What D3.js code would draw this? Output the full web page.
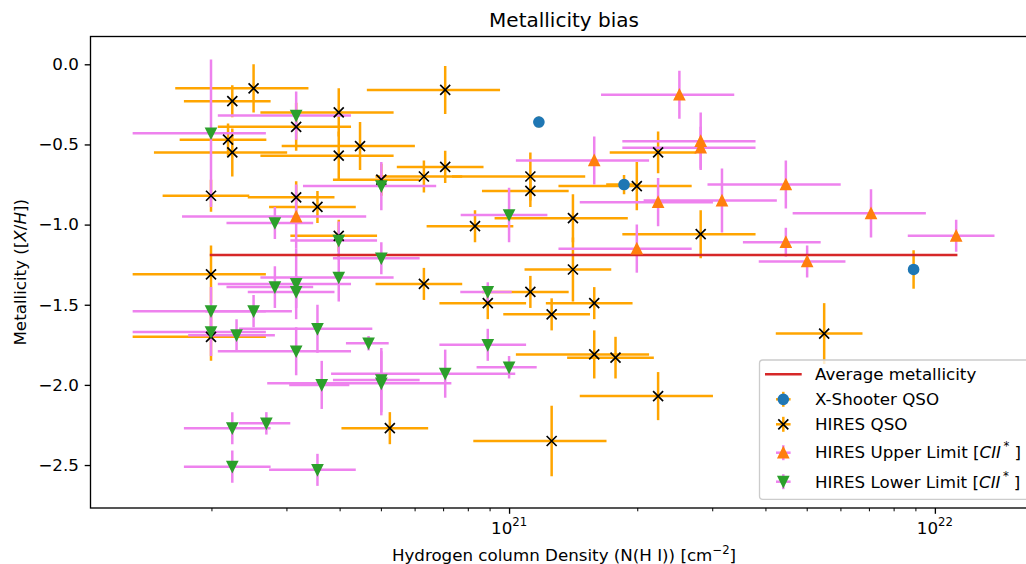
<!DOCTYPE html>
<html>
<head>
<meta charset="utf-8">
<script src="https://cdn.jsdelivr.net/npm/d3@7"></script>
<style>
  body { margin: 0; background: #fff; }
  svg { display: block; }
  text { font-family: "DejaVu Sans", sans-serif; fill: #000; }
</style>
</head>
<body>
<svg id="chart" width="1026" height="564"></svg>
<script>
// ---- Data: log N(H I) [cm^-2], its 1-sigma error (dex), metallicity [X/H] and its error ----

// X-Shooter QSO sight lines
const xshooterLogN     = [21.07, 21.27, 21.95];
const xshooterLogNErr  = [0.01, 0.04, 0.01];
const xshooterMetal    = [-0.36, -0.75, -1.28];
const xshooterMetalErr = [0.035, 0.06, 0.12];

// HIRES QSO sight lines
const hiresLogN = [20.40, 20.35, 20.60, 20.50, 20.34, 20.35, 20.60, 20.65, 20.70, 20.30,
                   20.50, 20.55, 20.60, 20.85, 20.85, 20.80, 21.05, 21.05, 21.15, 20.92,
                   21.35, 21.30, 21.45, 20.30, 20.30, 20.72, 20.80, 21.15, 21.05, 20.95,
                   21.10, 21.20, 21.20, 21.25, 21.35, 21.10, 21.74];
const hiresLogNErr = [0.15, 0.10, 0.15, 0.15, 0.10, 0.15, 0.15, 0.15, 0.10, 0.10,
                      0.10, 0.10, 0.10, 0.15, 0.10, 0.10, 0.15, 0.10, 0.15, 0.10,
                      0.10, 0.15, 0.15, 0.15, 0.15, 0.10, 0.10, 0.10, 0.10, 0.10,
                      0.10, 0.10, 0.15, 0.10, 0.15, 0.15, 0.10];
const hiresMetal = [-0.15, -0.23, -0.30, -0.39, -0.47, -0.55, -0.57, -0.51, -0.72, -0.82,
                    -0.83, -0.89, -1.07, -0.16, -0.64, -0.70, -0.70, -0.79, -0.96, -1.01,
                    -0.55, -0.76, -1.06, -1.31, -1.70, -2.27, -1.37, -1.28, -1.42, -1.49,
                    -1.56, -1.49, -1.81, -1.83, -2.07, -2.35, -1.68];
const hiresMetalErr = [0.15, 0.10, 0.15, 0.15, 0.10, 0.15, 0.15, 0.15, 0.10, 0.10,
                       0.10, 0.10, 0.10, 0.15, 0.10, 0.10, 0.15, 0.10, 0.15, 0.10,
                       0.13, 0.15, 0.15, 0.18, 0.15, 0.10, 0.10, 0.20, 0.10, 0.10,
                       0.10, 0.10, 0.15, 0.13, 0.15, 0.22, 0.19];

// HIRES upper limits from C II*
const upperLogN     = [20.50, 21.40, 21.45, 21.45, 21.20, 21.35, 21.30, 21.50, 21.65, 21.85, 22.05, 21.65, 21.70];
const upperLogNErr  = [0.20, 0.15, 0.15, 0.15, 0.15, 0.15, 0.15, 0.15, 0.15, 0.15, 0.10, 0.09, 0.10];
const upperMetal    = [-0.95, -0.19, -0.48, -0.52, -0.60, -0.86, -1.15, -0.85, -0.75, -0.93, -1.07, -1.11, -1.23];
const upperMetalErr = [0.20, 0.15, 0.18, 0.13, 0.15, 0.15, 0.15, 0.20, 0.15, 0.15, 0.10, 0.09, 0.10];

// HIRES lower limits from C II*
const lowerLogN = [20.30, 20.50, 20.70, 20.45, 20.60, 20.70, 20.60, 20.30, 20.40, 20.30,
                   20.36, 20.45, 20.50, 20.50, 20.55, 20.50, 20.67, 20.56, 20.70, 20.70,
                   20.85, 20.35, 20.43, 20.35, 20.55, 20.95, 20.95, 21.00, 21.00];
const lowerLogNErr = [0.15, 0.15, 0.15, 0.10, 0.10, 0.10, 0.15, 0.15, 0.10, 0.15,
                      0.10, 0.10, 0.15, 0.10, 0.15, 0.15, 0.05, 0.07, 0.10, 0.20,
                      0.20, 0.10, 0.06, 0.10, 0.10, 0.06, 0.10, 0.07, 0.10];
const lowerMetal = [-0.43, -0.32, -0.76, -0.99, -1.10, -1.21, -1.33, -1.54, -1.54, -1.67,
                    -1.69, -1.39, -1.37, -1.42, -1.65, -1.79, -1.74, -2.00, -1.97, -1.99,
                    -1.93, -2.27, -2.24, -2.51, -2.53, -1.42, -1.75, -1.89, -0.94];
const lowerMetalErr = [0.46, 0.15, 0.15, 0.10, 0.12, 0.10, 0.15, 0.15, 0.10, 0.15,
                       0.10, 0.13, 0.22, 0.10, 0.15, 0.15, 0.045, 0.15, 0.20, 0.20,
                       0.15, 0.10, 0.07, 0.10, 0.10, 0.06, 0.10, 0.07, 0.17];

// Average metallicity of the sample
const averageMetal = -1.19;

// Axis ticks
const yTicks = [0.0, -0.5, -1.0, -1.5, -2.0, -2.5];
const xMajorExp = [21, 22];
const xMinorMant = [2, 3, 4, 5, 6, 7, 8, 9];

// ---- Layout ----
const svg = d3.select("#chart");
const plot = { left: 90.5, right: 1037.5, top: 36.5, bottom: 508 };
const FS = 16.7;

const x = d3.scaleLog().domain([Math.pow(10, 20.017), Math.pow(10, 22.241)]).range([plot.left, plot.right]);
const y = d3.scaleLinear().domain([-2.768, 0.1734]).range([plot.bottom, plot.top]);

svg.append("rect").attr("width", 1026).attr("height", 564).attr("fill", "#fff");

svg.append("clipPath").attr("id", "plotclip")
  .append("rect")
  .attr("x", plot.left).attr("y", plot.top)
  .attr("width", plot.right - plot.left).attr("height", plot.bottom - plot.top);

// log-column errors converted to linear errors on N
function rows(logN, logNErr, metal, metalErr) {
  return logN.map((l, i) => {
    const n = Math.pow(10, l);
    const e = n * Math.LN10 * logNErr[i];
    return { n: n, lo: n - e, hi: n + e, m: metal[i], me: metalErr[i] };
  });
}

const series = [
  { label: "X-Shooter QSO", data: rows(xshooterLogN, xshooterLogNErr, xshooterMetal, xshooterMetalErr),
    ecolor: "#ffa500", marker: "circle", color: "#1f77b4" },
  { label: "HIRES QSO", data: rows(hiresLogN, hiresLogNErr, hiresMetal, hiresMetalErr),
    ecolor: "#ffa500", marker: "x", color: "#000000" },
  { label: "HIRES Upper Limit", data: rows(upperLogN, upperLogNErr, upperMetal, upperMetalErr),
    ecolor: "#ee82ee", marker: "up", color: "#ff7f0e" },
  { label: "HIRES Lower Limit", data: rows(lowerLogN, lowerLogNErr, lowerMetal, lowerMetalErr),
    ecolor: "#ee82ee", marker: "down", color: "#2ca02c" }
];

const plotArea = svg.append("g").attr("clip-path", "url(#plotclip)");

// error bars: horizontal then vertical for every series
const EW = 2.5;
series.forEach(s => {
  const g = plotArea.append("g");
  g.selectAll("line.h").data(s.data).join("line").attr("class", "h")
    .attr("x1", d => x(d.lo)).attr("x2", d => x(d.hi))
    .attr("y1", d => y(d.m)).attr("y2", d => y(d.m))
    .attr("stroke", s.ecolor).attr("stroke-width", EW);
  g.selectAll("line.v").data(s.data).join("line").attr("class", "v")
    .attr("x1", d => x(d.n)).attr("x2", d => x(d.n))
    .attr("y1", d => y(d.m - d.me)).attr("y2", d => y(d.m + d.me))
    .attr("stroke", s.ecolor).attr("stroke-width", EW);
});

// average metallicity across the full N(H I) range
const allN = series.flatMap(s => s.data.map(d => d.n));
const nExt = d3.extent(allN);
plotArea.append("line")
  .attr("x1", x(nExt[0])).attr("x2", x(nExt[1]))
  .attr("y1", y(averageMetal)).attr("y2", y(averageMetal))
  .attr("stroke", "#d62728").attr("stroke-width", 2.5).attr("stroke-linecap", "square");

// markers
const MS = 5;
const tri = d3.line();
function drawMarker(g, kind, color, cx, cy, r) {
  if (kind === "circle") {
    g.append("circle").attr("cx", cx).attr("cy", cy).attr("r", r)
      .attr("fill", color).attr("stroke", color).attr("stroke-width", 1.67);
  } else if (kind === "x") {
    g.append("path")
      .attr("d", `M${cx - r},${cy - r}L${cx + r},${cy + r}M${cx - r},${cy + r}L${cx + r},${cy - r}`)
      .attr("stroke", color).attr("stroke-width", 1.67).attr("fill", "none");
  } else if (kind === "up") {
    g.append("path").attr("d", tri([[cx, cy - r], [cx - r, cy + r], [cx + r, cy + r]]) + "Z")
      .attr("fill", color).attr("stroke", color).attr("stroke-width", 1.67).attr("stroke-linejoin", "miter");
  } else {
    g.append("path").attr("d", tri([[cx, cy + r], [cx - r, cy - r], [cx + r, cy - r]]) + "Z")
      .attr("fill", color).attr("stroke", color).attr("stroke-width", 1.67).attr("stroke-linejoin", "miter");
  }
}
series.forEach(s => {
  const g = plotArea.append("g");
  s.data.forEach(d => drawMarker(g, s.marker, s.color, x(d.n), y(d.m), MS));
});

// ---- Axes ----
svg.append("rect")
  .attr("x", plot.left).attr("y", plot.top)
  .attr("width", plot.right - plot.left).attr("height", plot.bottom - plot.top)
  .attr("fill", "none").attr("stroke", "#000").attr("stroke-width", 1.33);

// y axis
const yAxis = d3.axisLeft(y).tickValues(yTicks).tickSize(5.8).tickPadding(5.8).tickFormat(d3.format(".1f"));
const gy = svg.append("g").attr("transform", `translate(${plot.left},0)`).call(yAxis);
gy.select(".domain").remove();
gy.selectAll(".tick line").attr("stroke", "#000").attr("stroke-width", 1.33);
gy.selectAll(".tick text").attr("font-size", FS).attr("font-family", "DejaVu Sans").attr("fill", "#000");

// x axis (log): major decades and minor ticks
const xMajor = xMajorExp.map(e => Math.pow(10, e));
const xMinor = [];
[20, 21].forEach(e => xMinorMant.forEach(mn => xMinor.push(mn * Math.pow(10, e))));
const xDom = x.domain();
const xTickVals = xMajor.concat(xMinor).filter(v => v >= xDom[0] && v <= xDom[1]);
const xAxis = d3.axisBottom(x).tickValues(xTickVals).tickSize(5.8).tickFormat(() => "");
const gx = svg.append("g").attr("transform", `translate(0,${plot.bottom})`).call(xAxis);
gx.select(".domain").remove();
gx.selectAll(".tick line")
  .attr("stroke", "#000").attr("stroke-width", d => xMajor.includes(d) ? 1.33 : 1.0)
  .attr("y2", d => xMajor.includes(d) ? 5.8 : 3.3);
gx.selectAll(".tick text").remove();
xMajorExp.forEach(e => {
  const t = svg.append("text")
    .attr("x", x(Math.pow(10, e))).attr("y", 533.5)
    .attr("text-anchor", "middle").attr("font-size", FS);
  t.append("tspan").text("10");
  t.append("tspan").attr("font-size", 11.7).attr("dy", -8).text(String(e));
});

// axis labels and title
const xl = svg.append("text")
  .attr("x", (plot.left + plot.right) / 2).attr("y", 560.7)
  .attr("text-anchor", "middle").attr("font-size", FS);
xl.append("tspan").text("Hydrogen column Density (N(H I)) [cm");
xl.append("tspan").attr("font-size", 11.7).attr("dy", -6.5).text("\u22122");
xl.append("tspan").attr("dy", 6.5).text("]");

const yl = svg.append("text")
  .attr("transform", `translate(25.5,${(plot.top + plot.bottom) / 2}) rotate(-90)`)
  .attr("text-anchor", "middle").attr("font-size", FS);
yl.append("tspan").text("Metallicity ([");
yl.append("tspan").attr("font-style", "italic").text("X");
yl.append("tspan").text("/");
yl.append("tspan").attr("font-style", "italic").text("H");
yl.append("tspan").text("])");

svg.append("text")
  .attr("x", (plot.left + plot.right) / 2).attr("y", 26.7)
  .attr("text-anchor", "middle").attr("font-size", 20)
  .text("Metallicity bias");

// ---- Legend ----
const lg = svg.append("g");
lg.append("rect")
  .attr("x", 759.5).attr("y", 360).attr("width", 300).attr("height", 139.3)
  .attr("rx", 3.3).attr("ry", 3.3)
  .attr("fill", "#fff").attr("fill-opacity", 0.8)
  .attr("stroke", "#cccccc").attr("stroke-width", 1.33);

const hx = 783.3, tx = 815;
const rowY = [374.3, 399.3, 424.3, 452.7, 481.7];
const baseY = [379.6, 405.0, 430.0, 457.6, 487.5];

lg.append("line").attr("x1", 765).attr("x2", 801.7).attr("y1", rowY[0]).attr("y2", rowY[0])
  .attr("stroke", "#d62728").attr("stroke-width", 2.5);
lg.append("text").attr("x", tx).attr("y", baseY[0]).attr("font-size", FS).text("Average metallicity");

series.forEach((s, i) => {
  const cy = rowY[i + 1];
  lg.append("line").attr("x1", hx - 7.3).attr("x2", hx + 7.3).attr("y1", cy).attr("y2", cy)
    .attr("stroke", s.ecolor).attr("stroke-width", EW);
  lg.append("line").attr("x1", hx).attr("x2", hx).attr("y1", cy - 7.5).attr("y2", cy + 7.5)
    .attr("stroke", s.ecolor).attr("stroke-width", EW);
  drawMarker(lg, s.marker, s.color, hx, cy, MS);
  const t = lg.append("text").attr("x", tx).attr("y", baseY[i + 1]).attr("font-size", FS);
  if (s.marker === "up" || s.marker === "down") {
    t.append("tspan").text(s.label + " [");
    t.append("tspan").attr("font-style", "italic").text("CII");
    t.append("tspan").attr("font-size", 11.7).attr("dy", -7.5).attr("dx", 2.5).text("*");
    t.append("tspan").attr("dy", 7.5).attr("dx", 5).text("]");
  } else {
    t.text(s.label);
  }
});
</script>
</body>
</html>
